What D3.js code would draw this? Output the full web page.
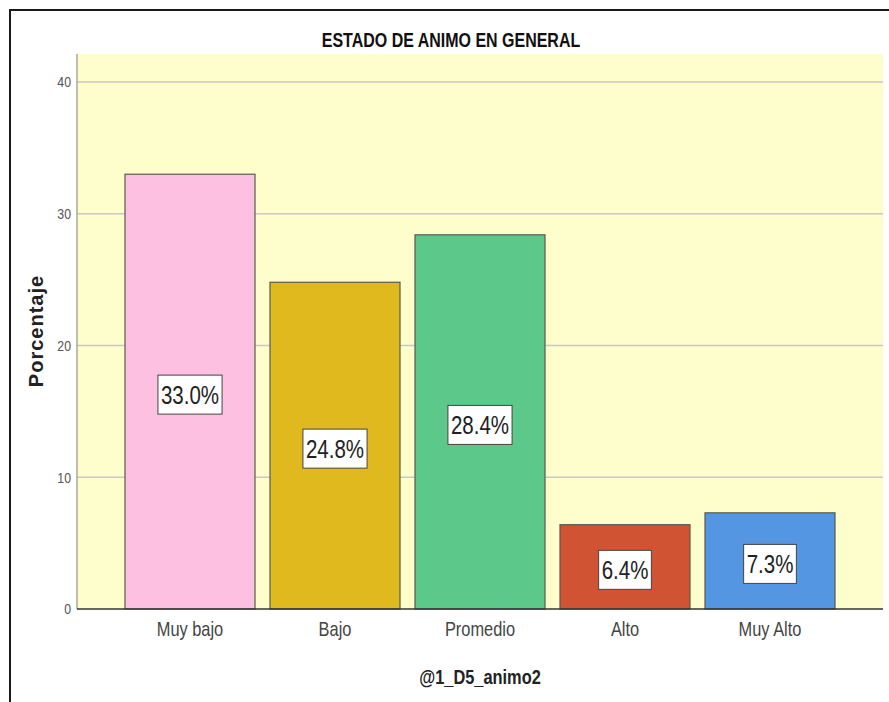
<!DOCTYPE html>
<html>
<head>
<meta charset="utf-8">
<script src="https://cdn.jsdelivr.net/npm/d3@7"></script>
<style>
  body { margin: 0; background: #fff; }
  svg { display: block; }
</style>
</head>
<body>
<div id="chart"></div>
<script>
// data
const categories = ["Muy bajo", "Bajo", "Promedio", "Alto", "Muy Alto"];
const percentages = [33.0, 24.8, 28.4, 6.4, 7.3];
const barColors = ["#fdc0e0", "#e0b91f", "#5cc98b", "#d05334", "#5596e3"];
const yTicks = [0, 10, 20, 30, 40];

const width = 889;
const height = 702;
const plot = { left: 77, right: 883, top: 54, bottom: 609 };
const font = "'Liberation Sans', Arial, sans-serif";
// the original text is horizontally condensed
const squeeze = 0.82;

const svg = d3.select("#chart")
    .append("svg")
    .attr("width", width)
    .attr("height", height);

// outer frame (only top and left edges are visible)
svg.append("path")
    .attr("d", `M10,${height} L10,10 L${width},10`)
    .attr("fill", "none")
    .attr("stroke", "#1a1a1a")
    .attr("stroke-width", 2);

const x = d3.scaleBand()
    .domain(categories)
    .range([plot.left, plot.right])
    .paddingInner(0.1034)
    .paddingOuter(0.331);

const y = d3.scaleLinear()
    .domain([0, 40])
    .range([plot.bottom, plot.bottom - 40 * 13.175]);

// plot background
svg.append("rect")
    .attr("x", plot.left)
    .attr("y", plot.top)
    .attr("width", plot.right - plot.left)
    .attr("height", plot.bottom - plot.top)
    .attr("fill", "#fefdcc");

// gridlines
svg.append("g")
    .selectAll("line")
    .data(yTicks.filter(d => d > 0))
    .join("line")
    .attr("x1", plot.left)
    .attr("x2", plot.right)
    .attr("y1", d => y(d))
    .attr("y2", d => y(d))
    .attr("stroke", "#c9c9be")
    .attr("stroke-width", 1.5);

// y axis
const yAxis = svg.append("g")
    .attr("transform", `translate(${plot.left},0)`)
    .call(d3.axisLeft(y).tickValues(yTicks).tickSize(0).tickPadding(6));
yAxis.select(".domain").attr("stroke", "#a8a8a0").attr("stroke-width", 1.5)
    .attr("d", `M0,${plot.top}V${plot.bottom}`);
yAxis.selectAll("text")
    .attr("x", -6 / squeeze)
    .attr("transform", `scale(${squeeze},1)`)
    .style("font-family", font)
    .style("font-size", "15px")
    .attr("fill", "#555");

// bars
svg.append("g")
    .selectAll("rect")
    .data(percentages)
    .join("rect")
    .attr("x", (d, i) => x(categories[i]))
    .attr("y", d => y(d))
    .attr("width", x.bandwidth())
    .attr("height", d => y(0) - y(d))
    .attr("fill", (d, i) => barColors[i])
    .attr("stroke", "#5a5a50")
    .attr("stroke-width", 1.2);

// x axis
const xAxis = svg.append("g")
    .attr("transform", `translate(0,${plot.bottom})`)
    .call(d3.axisBottom(x).tickSize(0).tickPadding(13));
xAxis.select(".domain").attr("stroke", "#333").attr("stroke-width", 1.5)
    .attr("d", `M${plot.left},0H${plot.right}`);
xAxis.selectAll("text")
    .attr("transform", `scale(${squeeze},1)`)
    .style("font-family", font)
    .style("font-size", "20px")
    .attr("fill", "#444");

// value labels in boxes
const labels = svg.append("g")
    .selectAll("g")
    .data(percentages)
    .join("g")
    .attr("transform", (d, i) =>
        `translate(${x(categories[i]) + x.bandwidth() / 2},${(y(d) + y(0)) / 2 + 3})`);

labels.append("text")
    .attr("text-anchor", "middle")
    .attr("dy", "0.36em")
    .attr("transform", `scale(${squeeze},1)`)
    .style("font-family", font)
    .style("font-size", "25px")
    .attr("fill", "#222")
    .text(d => d.toFixed(1) + "%");

labels.each(function () {
    const g = d3.select(this);
    const w = g.select("text").node().getBBox().width * squeeze;
    g.insert("rect", "text")
        .attr("x", -w / 2 - 3)
        .attr("y", -19.5)
        .attr("width", w + 6)
        .attr("height", 39)
        .attr("fill", "#fff")
        .attr("stroke", "#444")
        .attr("stroke-width", 1);
});

// title
svg.append("text")
    .attr("transform", `translate(451,47) scale(${squeeze},1)`)
    .attr("text-anchor", "middle")
    .style("font-family", font)
    .style("font-weight", "bold")
    .style("font-size", "19.5px")
    .attr("fill", "#111")
    .text("ESTADO DE ANIMO EN GENERAL");

// x axis title
svg.append("text")
    .attr("transform", `translate(480,684) scale(${squeeze},1)`)
    .attr("text-anchor", "middle")
    .style("font-family", font)
    .style("font-weight", "bold")
    .style("font-size", "20px")
    .attr("fill", "#222")
    .text("@1_D5_animo2");

// y axis title
svg.append("text")
    .attr("transform", "translate(43,331) rotate(-90)")
    .attr("text-anchor", "middle")
    .style("font-family", font)
    .style("font-weight", "bold")
    .style("font-size", "20px")
    .style("letter-spacing", "1px")
    .attr("fill", "#222")
    .text("Porcentaje");
</script>
</body>
</html>
